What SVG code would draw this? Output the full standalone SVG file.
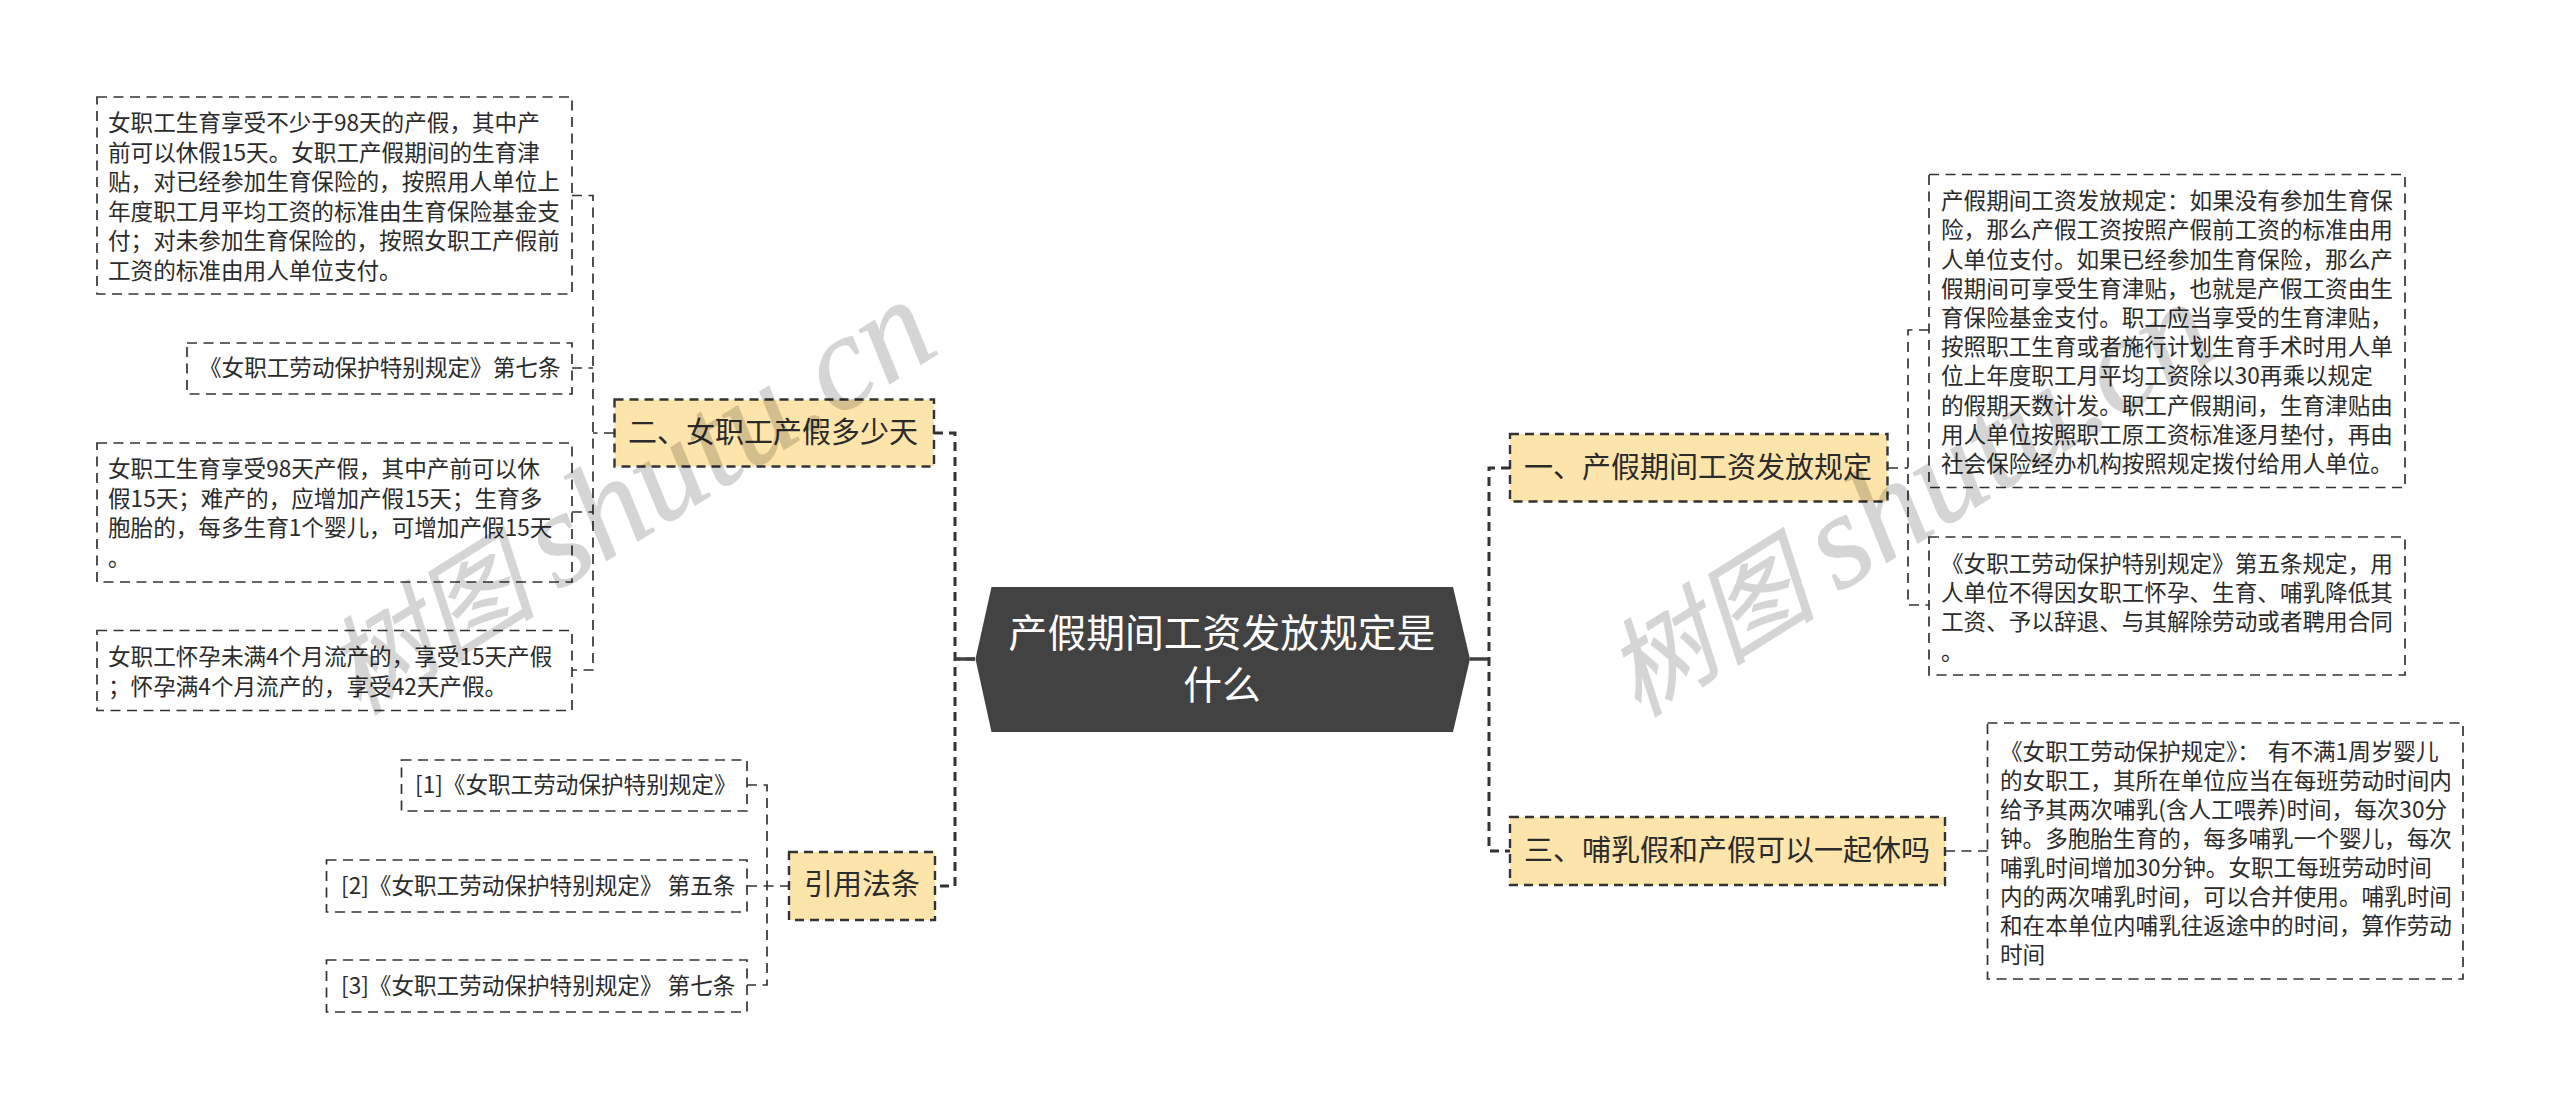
<svg xmlns="http://www.w3.org/2000/svg" width="2560" height="1109" viewBox="0 0 2560 1109">
<style>
text{font-family:"Noto Sans CJK SC","Noto Sans",sans-serif;fill:#2b2b2b}
.t{font-size:22.6px}
.l1{font-size:29px}
.c{font-size:38.8px;fill:#fff;text-anchor:middle}
.leaf{fill:#fff;stroke:#333;stroke-width:1.7;stroke-dasharray:10 6.500}
.branch{fill:#fde4ab;stroke:#333;stroke-width:2.4;stroke-dasharray:9 6}
.w1{fill:none;stroke:#333;stroke-width:1.7;stroke-dasharray:10 6.500}
.w2{fill:none;stroke:#333;stroke-width:3;stroke-dasharray:9 6}
.w3{fill:none;stroke:#424242;stroke-width:3.500}
.wm{font-style:italic;font-size:106px;fill:#000;stroke:#000;stroke-width:1;opacity:.16}
.wl{font-family:"Liberation Serif",serif;font-size:135px}
</style>
<rect width="2560" height="1109" fill="#fff"/>
<g id="connectors">
<path class="w2" d="M975 659H955M934 433H955V886H935"/>
<path class="w3" d="M975 659H955M1470 659H1489"/>
<path class="w2" d="M1510 468H1489V851H1510"/>
<path class="w1" d="M572 195.500H593V670H572M572 368H593M572 512H593M614 433H593"/>
<path class="w1" d="M747 785H767V985H747M747 886H789"/>
<path class="w1" d="M1929 330H1908V605H1929M1888 468H1908"/>
<path class="w1" d="M1945 851H1988"/>
</g>
<g id="center"><path d="M991.500 587H1453L1470 659L1453 732H991.500L975.500 659Z" fill="#424242"/>
<text class="c" x="1222" y="647">产假期间工资发放规定是</text><text class="c" x="1222" y="699">什么</text></g>
<g id="n2"><rect class="branch" x="614.500" y="399.500" width="319.500" height="67"/><text class="l1" x="628" y="443">二、女职工产假多少天</text></g>
<g id="n2a"><rect class="leaf" x="97" y="97" width="475" height="197"/>
<text class="t" x="108" y="131">女职工生育享受不少于98天的产假，其中产</text>
<text class="t" x="108" y="160.500">前可以休假15天。女职工产假期间的生育津</text>
<text class="t" x="108" y="190">贴，对已经参加生育保险的，按照用人单位上</text>
<text class="t" x="108" y="219.500">年度职工月平均工资的标准由生育保险基金支</text>
<text class="t" x="108" y="249">付；对未参加生育保险的，按照女职工产假前</text>
<text class="t" x="108" y="278.500">工资的标准由用人单位支付。</text></g>
<g id="n2b"><rect class="leaf" x="187" y="343" width="385" height="51"/><text class="t" x="199" y="376">《女职工劳动保护特别规定》第七条</text></g>
<g id="n2c"><rect class="leaf" x="97" y="443" width="475" height="139"/>
<text class="t" x="108" y="477">女职工生育享受98天产假，其中产前可以休</text>
<text class="t" x="108" y="506.500">假15天；难产的，应增加产假15天；生育多</text>
<text class="t" x="108" y="536">胞胎的，每多生育1个婴儿，可增加产假15天</text>
<text class="t" x="108" y="565.500">。</text></g>
<g id="n2d"><rect class="leaf" x="97" y="630.500" width="475" height="80"/>
<text class="t" x="108" y="665">女职工怀孕未满4个月流产的，享受15天产假</text>
<text class="t" x="108" y="694.500">；怀孕满4个月流产的，享受42天产假。</text></g>
<g id="n4"><rect class="branch" x="789" y="852" width="146" height="68"/><text class="l1" x="804" y="895">引用法条</text></g>
<g id="n4a"><rect class="leaf" x="401.500" y="760" width="345.500" height="51"/><text class="t" x="415" y="793">[1]《女职工劳动保护特别规定》</text></g>
<g id="n4b"><rect class="leaf" x="326.500" y="860" width="420.500" height="52"/><text class="t" x="341" y="894">[2]《女职工劳动保护特别规定》 第五条</text></g>
<g id="n4c"><rect class="leaf" x="326.500" y="960" width="420.500" height="52"/><text class="t" x="341" y="994">[3]《女职工劳动保护特别规定》 第七条</text></g>
<g id="n1"><rect class="branch" x="1510" y="434" width="377.500" height="67.500"/><text class="l1" x="1524" y="478">一、产假期间工资发放规定</text></g>
<g id="n1a"><rect class="leaf" x="1929" y="174.500" width="476" height="313"/>
<text class="t" x="1941" y="209">产假期间工资发放规定：如果没有参加生育保</text>
<text class="t" x="1941" y="238">险，那么产假工资按照产假前工资的标准由用</text>
<text class="t" x="1941" y="267.500">人单位支付。如果已经参加生育保险，那么产</text>
<text class="t" x="1941" y="296.500">假期间可享受生育津贴，也就是产假工资由生</text>
<text class="t" x="1941" y="326">育保险基金支付。职工应当享受的生育津贴，</text>
<text class="t" x="1941" y="355">按照职工生育或者施行计划生育手术时用人单</text>
<text class="t" x="1941" y="384">位上年度职工月平均工资除以30再乘以规定</text>
<text class="t" x="1941" y="413.500">的假期天数计发。职工产假期间，生育津贴由</text>
<text class="t" x="1941" y="442.500">用人单位按照职工原工资标准逐月垫付，再由</text>
<text class="t" x="1941" y="472">社会保险经办机构按照规定拨付给用人单位。</text></g>
<g id="n1b"><rect class="leaf" x="1929" y="537" width="476" height="138"/>
<text class="t" x="1941" y="572">《女职工劳动保护特别规定》第五条规定，用</text>
<text class="t" x="1941" y="601">人单位不得因女职工怀孕、生育、哺乳降低其</text>
<text class="t" x="1941" y="630">工资、予以辞退、与其解除劳动或者聘用合同</text>
<text class="t" x="1941" y="659.500">。</text></g>
<g id="n3"><rect class="branch" x="1510" y="817" width="435" height="68"/><text class="l1" x="1524" y="861">三、哺乳假和产假可以一起休吗</text></g>
<g id="n3a"><rect class="leaf" x="1987.500" y="723" width="475.500" height="256"/>
<text class="t" x="2000" y="759.500">《女职工劳动保护规定》：<tspan dx="8">有不满1周岁婴儿</tspan></text>
<text class="t" x="2000" y="788.500">的女职工，其所在单位应当在每班劳动时间内</text>
<text class="t" x="2000" y="817.500">给予其两次哺乳(含人工喂养)时间，每次30分</text>
<text class="t" x="2000" y="846.500">钟。多胞胎生育的，每多哺乳一个婴儿，每次</text>
<text class="t" x="2000" y="875.500">哺乳时间增加30分钟。女职工每班劳动时间</text>
<text class="t" x="2000" y="904.500">内的两次哺乳时间，可以合并使用。哺乳时间</text>
<text class="t" x="2000" y="933.500">和在本单位内哺乳往返途中的时间，算作劳动</text>
<text class="t" x="2000" y="962.500">时间</text></g>
<g id="watermarks">
<text class="wm" transform="translate(358 716) rotate(-32)">树图 <tspan class="wl">shutu.cn</tspan></text>
<text class="wm" transform="translate(1638 718) rotate(-32)">树图 <tspan class="wl">shutu.cn</tspan></text>
</g>
</svg>
